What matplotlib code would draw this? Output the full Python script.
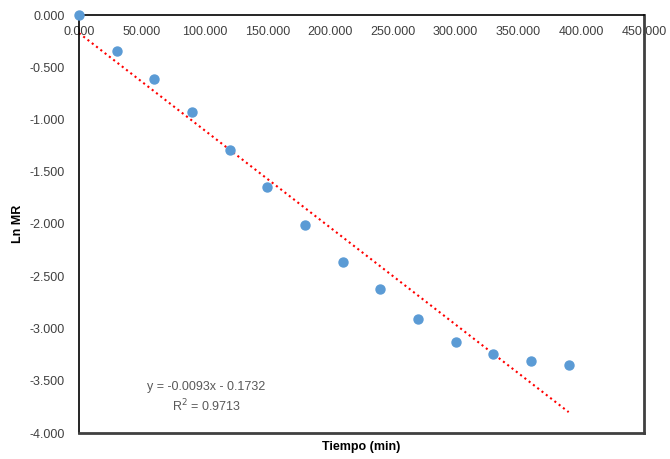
import matplotlib.pyplot as plt
import numpy as np

plt.rcParams['font.family'] = ['Liberation Sans', 'DejaVu Sans']

tiempo = [0, 30, 60, 90, 120, 150, 180, 210, 240, 270, 300, 330, 360, 390]
ln_mr = [0.0, -0.344, -0.61, -0.93, -1.29, -1.65, -2.01, -2.36, -2.62, -2.91, -3.13, -3.24, -3.31, -3.35]

slope, intercept = -0.0093, -0.1732
r2 = 0.9713

fig = plt.figure(figsize=(6.70, 4.59), dpi=100)
ax = fig.add_axes([79 / 670, 26 / 459, 565 / 670, 418 / 459])

x_fit = np.array([tiempo[0], tiempo[-1]])
ax.plot(x_fit, slope * x_fit + intercept, color='#ff0000', linestyle=(0, (1, 1.6)),
        linewidth=1.5, zorder=2)
ax.scatter(tiempo, ln_mr, s=42, color='#5b9bd5', zorder=3, clip_on=False)

ax.set_xlim(0, 450)
ax.set_ylim(-4, 0)
ax.set_xticks(np.arange(0, 451, 50))
ax.set_yticks(np.arange(-4, 0.01, 0.5))
ax.xaxis.set_major_formatter(lambda v, p: f'{v:.3f}')
ax.yaxis.set_major_formatter(lambda v, p: f'{v:.3f}')

ax.xaxis.tick_top()
ax.tick_params(axis='x', length=0, pad=-16.5, labelsize=9, labelcolor='#404040')
ax.tick_params(axis='y', length=0, pad=10, labelsize=9, labelcolor='#404040')

for side in ['top', 'left']:
    ax.spines[side].set_color('black')
    ax.spines[side].set_linewidth(1.2)
for side in ['bottom', 'right']:
    ax.spines[side].set_color('#404040')
    ax.spines[side].set_linewidth(2)

ax.set_xlabel('Tiempo (min)', fontsize=9, fontweight='bold', labelpad=6)
ax.set_ylabel('Ln MR', fontsize=9, fontweight='bold', labelpad=4)

ax.text(0.225, 0.085, f'y = {slope}x - {abs(intercept)}\nR$^2$ = {r2}',
        transform=ax.transAxes, ha='center', va='center', fontsize=9,
        color='#595959', linespacing=1.35)

fig.savefig('out.png')
